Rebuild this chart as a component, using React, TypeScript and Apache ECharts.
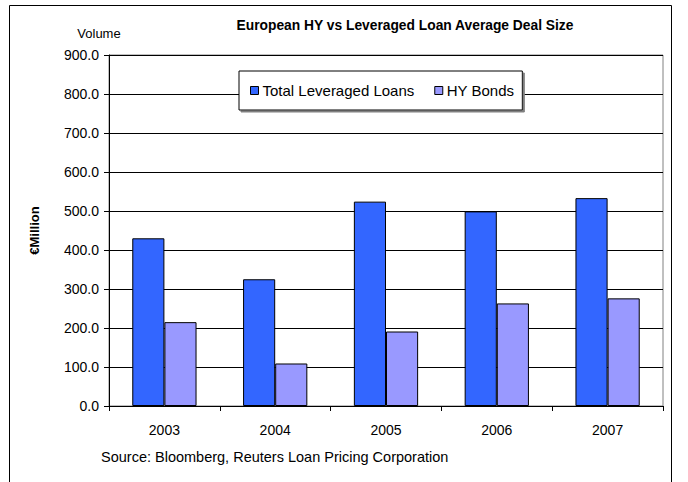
import React, { useEffect, useRef } from "react";
import * as echarts from "echarts";

const years = ["2003", "2004", "2005", "2006", "2007"];
const totalLeveragedLoans = [430, 325, 524, 499, 533];
const hyBonds = [215, 109, 191, 263, 276];
const seriesNames = ["Total Leveraged Loans", "HY Bonds"];
const titleText = "European HY vs Leveraged Loan Average Deal Size";
const sourceText = "Source: Bloomberg, Reuters Loan Pricing Corporation";

const FONT = "Liberation Sans, Arial, sans-serif";

export default function App() {
  const ref = useRef<HTMLDivElement>(null);
  useEffect(() => {
    document.body.style.margin = "0";
    const chart = echarts.init(ref.current!, null, { renderer: "svg" });
    chart.setOption({
      animation: false,
      backgroundColor: "#fff",
      textStyle: { fontFamily: FONT, color: "#000" },
      title: {
        text: titleText,
        left: 400,
        textAlign: "center",
        top: 13,
        textStyle: { fontFamily: FONT, fontSize: 13.8, fontWeight: "bold", color: "#000" },
      },
      legend: {
        data: seriesNames,
        left: 239,
        top: 71,
        orient: "horizontal",
        backgroundColor: "#fff",
        borderColor: "#000",
        borderWidth: 1,
        padding: [12, 8, 12, 11],
        itemWidth: 8,
        itemHeight: 8,
        itemGap: 20,
        icon: "rect",
        itemStyle: { borderColor: "#000", borderWidth: 1 },
        shadowColor: "#808080",
        shadowOffsetX: 2,
        shadowOffsetY: 2,
        shadowBlur: 0,
        textStyle: { fontFamily: FONT, fontSize: 15, color: "#000", padding: [0, 0, 0, -1] },
      },
      grid: {
        left: 109,
        top: 55,
        width: 554,
        height: 351,
        show: true,
        borderColor: "#808080",
        borderWidth: 1,
        backgroundColor: "#fff",
      },
      xAxis: {
        type: "category",
        data: years,
        axisLine: { show: true, lineStyle: { color: "#000", width: 1 } },
        axisTick: { show: true, length: 5, inside: false, lineStyle: { color: "#000" } },
        axisLabel: { fontFamily: FONT, fontSize: 14, color: "#000", margin: 17 },
        splitLine: { show: false },
      },
      yAxis: {
        type: "value",
        min: 0,
        max: 900,
        interval: 100,
        name: "€Million",
        nameLocation: "middle",
        nameRotate: 90,
        nameGap: 68,
        nameTextStyle: { fontFamily: FONT, fontSize: 13, fontWeight: "bold", color: "#000" },
        axisLine: { show: true, lineStyle: { color: "#000", width: 1 } },
        axisTick: { show: true, length: 5, inside: false, lineStyle: { color: "#000" } },
        axisLabel: {
          fontFamily: FONT,
          fontSize: 14,
          color: "#000",
          margin: 10,
          formatter: (v: number) => v.toFixed(1),
        },
        splitLine: { show: true, lineStyle: { color: "#000", width: 1 } },
      },
      series: [
        {
          name: seriesNames[0],
          type: "bar",
          data: totalLeveragedLoans,
          barGap: "0%",
          barCategoryGap: "42%",
          itemStyle: { color: "#3366FF", borderColor: "#000", borderWidth: 1 },
        },
        {
          name: seriesNames[1],
          type: "bar",
          data: hyBonds,
          barGap: "0%",
          barCategoryGap: "42%",
          itemStyle: { color: "#9999FF", borderColor: "#000", borderWidth: 1 },
        },
      ],
      graphic: [
        {
          type: "rect",
          shape: { x: 9.5, y: 5.5, width: 662, height: 500 },
          style: { fill: "none", stroke: "#000", lineWidth: 1 },
          silent: true,
          z: 100,
        },
        {
          type: "text",
          x: 99,
          y: 33,
          style: {
            text: "Volume",
            fontFamily: FONT,
            fontSize: 13,
            fill: "#000",
            align: "center",
            verticalAlign: "middle",
          },
        },
        {
          type: "text",
          x: 101,
          y: 457,
          style: {
            text: sourceText,
            fontFamily: FONT,
            fontSize: 14.5,
            fill: "#000",
            align: "left",
            verticalAlign: "middle",
          },
        },
      ],
    });
    return () => chart.dispose();
  }, []);
  return <div ref={ref} style={{ width: 688, height: 482 }} />;
}
